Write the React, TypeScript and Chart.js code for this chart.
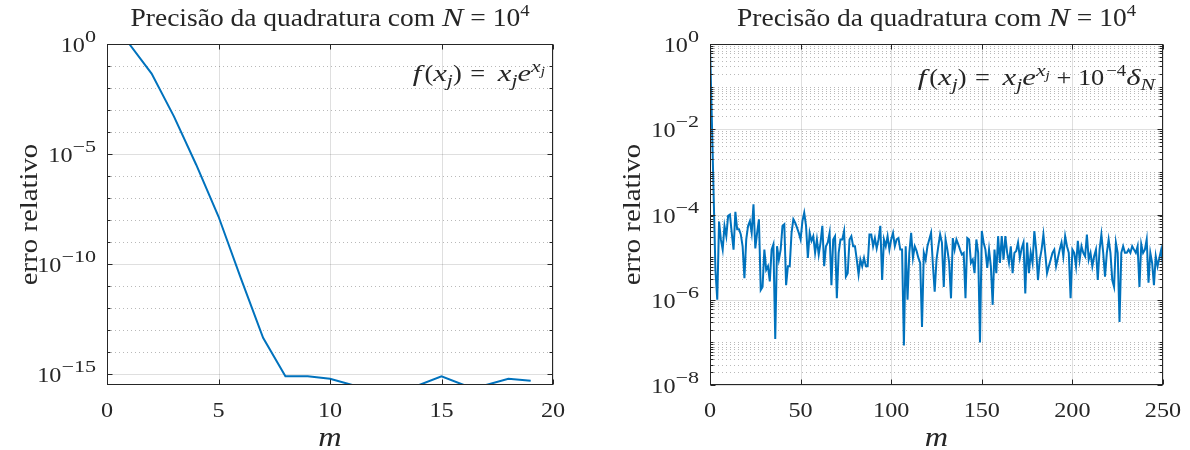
import React, { useEffect, useRef } from "react";
import { Chart, registerables } from "chart.js";

Chart.register(...registerables);

// ---------- data ----------
const leftM = [1, 2, 3, 4, 5, 6, 7, 8, 9, 10, 11, 12, 13, 14, 15, 16, 17, 18, 19];
const leftErr = [
  1.0, 4.5e-2, 5.1e-4, 3.2e-6, 1.4e-8, 2.2e-11, 4.2e-14, 7.5e-16, 7.5e-16, 5.8e-16,
  3.0e-16, 3.0e-16, 3.0e-16, 3.0e-16, 7.5e-16, 3.0e-16, 3.0e-16, 5.8e-16, 4.7e-16,
];

const rightM = [
  0, 1, 2, 3, 4, 5, 6, 7, 8, 9, 10, 11, 12, 13, 14, 15, 16, 17, 18, 19,
  20, 21, 22, 23, 24, 25, 26, 27, 28, 29, 30, 31, 32, 33, 34, 35, 36, 37, 38, 39,
  40, 41, 42, 43, 44, 45, 46, 47, 48, 49, 50, 51, 52, 53, 54, 55, 56, 57, 58, 59,
  60, 61, 62, 63, 64, 65, 66, 67, 68, 69, 70, 71, 72, 73, 74, 75, 76, 77, 78, 79,
  80, 81, 82, 83, 84, 85, 86, 87, 88, 89, 90, 91, 92, 93, 94, 95, 96, 97, 98, 99,
  100, 101, 102, 103, 104, 105, 106, 107, 108, 109, 110, 111, 112, 113, 114, 115, 116, 117, 118, 119,
  120, 121, 122, 123, 124, 125, 126, 127, 128, 129, 130, 131, 132, 133, 134, 135, 136, 137, 138, 139,
  140, 141, 142, 143, 144, 145, 146, 147, 148, 149, 150, 151, 152, 153, 154, 155, 156, 157, 158, 159,
  160, 161, 162, 163, 164, 165, 166, 167, 168, 169, 170, 171, 172, 173, 174, 175, 176, 177, 178, 179,
  180, 181, 182, 183, 184, 185, 186, 187, 188, 189, 190, 191, 192, 193, 194, 195, 196, 197, 198, 199,
  200, 201, 202, 203, 204, 205, 206, 207, 208, 209, 210, 211, 212, 213, 214, 215, 216, 217, 218, 219,
  220, 221, 222, 223, 224, 225, 226, 227, 228, 229, 230, 231, 232, 233, 234, 235, 236, 237, 238, 239,
  240, 241, 242, 243, 244, 245, 246, 247, 248, 249, 250,
];
const rightErr = [
  1, 1.8e-2, 3e-4, 5e-6, 1.0e-6, 6.8e-5, 2.6e-5, 1.5e-5, 5.4e-5, 3.1e-5,
  9.3e-5, 1.0e-4, 3.7e-5, 1.5e-5, 1.15e-4, 4.5e-5, 4.5e-5, 3.4e-5, 1.8e-5, 3.2e-6,
  2.6e-5, 5.4e-5, 7.0e-5, 3.7e-5, 1.74e-4, 1.6e-5, 3.7e-5, 7.7e-5, 1.7e-6, 2.0e-6,
  1.5e-5, 5.0e-6, 6.1e-6, 2.7e-6, 1.5e-5, 2.0e-5, 1.2e-7, 1.8e-5, 8.7e-6, 1.5e-5,
  5.4e-5, 5.9e-5, 2.2e-6, 6.1e-6, 6.1e-6, 3.7e-5, 7.7e-5, 6.4e-5, 4.9e-5, 3.7e-5,
  2.6e-5, 7.0e-5, 1.1e-4, 5.4e-5, 9.6e-6, 3.7e-5, 2.4e-5, 3.1e-5, 1.26e-5, 2.6e-5,
  1.15e-5, 2.2e-5, 5.4e-5, 6.1e-6, 1.8e-5, 2.2e-5, 3.7e-5, 2.2e-6, 2.6e-5, 3.1e-5,
  1.08e-6, 1.26e-5, 2.6e-5, 2.6e-5, 4.1e-5, 3.5e-6, 4.2e-6, 2.6e-5, 3.1e-5, 1.8e-5,
  1.8e-5, 8.7e-6, 3.9e-6, 8.7e-6, 6.1e-6, 9.6e-6, 6.1e-6, 6.1e-6, 3.4e-5, 3.4e-5,
  1.8e-5, 2.8e-5, 1.6e-5, 2.6e-5, 5.4e-5, 2.9e-6, 2.6e-5, 1.8e-5, 3.1e-5, 1.5e-5,
  2.6e-5, 3.7e-5, 1.8e-5, 2.6e-5, 2.8e-5, 1.5e-5, 1.5e-5, 8.5e-8, 1.8e-5, 1.0e-6,
  1.26e-5, 3.7e-5, 9.6e-6, 1.8e-5, 1.4e-5, 9.6e-6, 7.3e-6, 2.3e-7, 1.26e-5, 8.7e-6,
  1.8e-5, 2.6e-5, 3.7e-5, 6.7e-6, 1.55e-6, 8.7e-6, 1.8e-5, 3.4e-5, 2.2e-5, 2.0e-6,
  2.6e-5, 1.5e-5, 7.3e-6, 1.08e-6, 2.8e-5, 1.5e-5, 2.6e-5, 2.0e-5, 1.5e-5, 1.15e-5,
  1.26e-5, 1.08e-6, 2.8e-5, 2.6e-5, 7.3e-6, 8.7e-6, 4.2e-6, 2.6e-5, 1.26e-5, 1.0e-7,
  4.1e-5, 2.2e-5, 1.5e-5, 5.6e-6, 1.5e-5, 6.1e-6, 7.6e-7, 1.5e-5, 4.2e-6, 3.1e-5,
  7.3e-6, 3.1e-5, 8.7e-6, 3.1e-5, 1.26e-5, 7.3e-6, 1.8e-5, 4.2e-6, 1.26e-5, 1.4e-5,
  2.2e-5, 9.6e-6, 1.6e-5, 2.2e-5, 1.4e-6, 2.2e-5, 4.2e-6, 1.26e-5, 7.3e-6, 4.1e-5,
  1.5e-5, 2.9e-6, 8.7e-6, 1.5e-5, 3.4e-5, 1.26e-5, 4.2e-6, 6.1e-6, 8.7e-6, 1.26e-5,
  1.5e-5, 6.1e-6, 9.6e-6, 1.5e-5, 2.2e-5, 1.05e-5, 3.1e-5, 1.8e-5, 1.26e-5, 1.08e-6,
  1.5e-5, 1.26e-5, 6.1e-6, 2.4e-5, 8.7e-6, 1.8e-5, 1.26e-5, 1.05e-5, 3.4e-5, 8.7e-6,
  1.26e-5, 6.1e-6, 1.05e-5, 1.5e-5, 2.9e-6, 1.5e-5, 3.4e-5, 1.26e-5, 3.5e-6, 1.26e-5,
  2.6e-5, 1.26e-5, 2.9e-6, 2.0e-6, 2.2e-5, 1.26e-5, 3.0e-7, 1.26e-5, 1.8e-5, 1.26e-5,
  1.26e-5, 1.5e-5, 1.26e-5, 1.8e-5, 1.5e-5, 1.26e-5, 1.8e-5, 2.0e-6, 2.0e-5, 1.26e-5,
  1.5e-5, 2.6e-5, 2.5e-6, 1.26e-5, 7.3e-6, 2.2e-6, 1.05e-5, 6.1e-6, 9.6e-6, 1.5e-5,
  6.7e-6,
];

// ---------- ticks ----------
const leftXTicks = [0, 5, 10, 15, 20];
const leftYMajor = [1, 1e-5, 1e-10, 1e-15];
const leftYExp = ["0", "\u22125", "\u221210", "\u221215"];
const leftYMinor = [
  1e-1, 1e-2, 1e-3, 1e-4, 1e-6, 1e-7, 1e-8, 1e-9, 1e-11, 1e-12, 1e-13, 1e-14,
];

const rightXTicks = [0, 50, 100, 150, 200, 250];
const rightYMajor = [1, 1e-2, 1e-4, 1e-6, 1e-8];
const rightYExp = ["0", "\u22122", "\u22124", "\u22126", "\u22128"];

// log-axis minor ticks: 2..9 x 10^k plus the odd decades
function logMinorTicks(loExp: number, hiExp: number, majors: number[]) {
  const out: number[] = [];
  for (let k = loExp; k < hiExp; k++) {
    for (let d = 1; d <= 9; d++) {
      const v = d * Math.pow(10, k);
      if (!majors.some((mv) => Math.abs(mv - v) / mv < 1e-9)) out.push(v);
    }
  }
  return out;
}
const rightYMinor = logMinorTicks(-8, 0, rightYMajor);

// ---------- styles ----------
const SERIF = '"Liberation Serif", "DejaVu Serif", "Times New Roman", serif';
const AXIS_COLOR = "#262626";
const LINE_BLUE = "#0072BD";
const MAJOR_GRID = "rgba(38,38,38,0.15)";
const MINOR_GRID = "rgba(38,38,38,0.32)";
const ROMAN_SX = 1.1; // widen the roman face a little
const ITALIC_SX = 1.28; // math italics are set wider

type Seg = { t: string; italic?: boolean; size?: number; dy?: number; dx?: number; sx?: number };

function segFont(s: Seg, base: number) {
  return `${s.italic ? "italic " : ""}${s.size ?? base}px ${SERIF}`;
}

function drawRich(
  ctx: CanvasRenderingContext2D,
  segs: Seg[],
  x: number,
  y: number,
  align: "left" | "center" | "right",
  base: number
) {
  const scales = segs.map((s) => s.sx ?? (s.italic ? ITALIC_SX : ROMAN_SX));
  const widths = segs.map((s, i) => {
    ctx.font = segFont(s, base);
    return ctx.measureText(s.t).width * scales[i] + (s.dx ?? 0);
  });
  const total = widths.reduce((a, b) => a + b, 0);
  let cx = align === "right" ? x - total : align === "center" ? x - total / 2 : x;
  ctx.textAlign = "left";
  ctx.textBaseline = "alphabetic";
  segs.forEach((s, i) => {
    ctx.font = segFont(s, base);
    ctx.save();
    ctx.translate(cx, y + (s.dy ?? 0));
    ctx.scale(scales[i], 1);
    ctx.fillText(s.t, 0, 0);
    ctx.restore();
    cx += widths[i];
  });
}

const titleSegs: Seg[] = [
  { t: "Precisão da quadratura com " },
  { t: "N", italic: true },
  { t: " = 10" },
  { t: "4", size: 17, dy: -10 },
];

const leftNote: Seg[] = [
  { t: "f", italic: true, dx: 3 },
  { t: "(" },
  { t: "x", italic: true },
  { t: "j", italic: true, size: 17, dy: 5 },
  { t: ")", dx: 2 },
  { t: " = ", dx: 6 },
  { t: "x", italic: true },
  { t: "j", italic: true, size: 17, dy: 5 },
  { t: "e", italic: true },
  { t: "x", italic: true, size: 17, dy: -9 },
  { t: "j", italic: true, size: 12, dy: -6 },
];

const rightNote: Seg[] = [
  ...leftNote,
  { t: " + 10", dx: 2 },
  { t: "\u22124", size: 17, dy: -9 },
  { t: "δ", italic: true },
  { t: "N", italic: true, size: 17, dy: 5 },
];

type Panel = {
  width: number;
  area: { left: number; right: number; top: number; bottom: number };
  xs: number[];
  ys: number[];
  xMin: number;
  xMax: number;
  yMin: number;
  yMax: number;
  xTicks: number[];
  yMajor: number[];
  yExp: string[];
  yMinor: number[];
  note: Seg[];
  noteBaseline: number;
};

const snap = (v: number) => Math.round(v) + 0.5;

function matlabAxes(p: Panel) {
  return {
    id: "matlabAxes",
    beforeDatasetsDraw(chart: any) {
      const { ctx, chartArea: a } = chart;
      const x = chart.scales.x;
      const y = chart.scales.y;
      ctx.save();
      ctx.lineWidth = 1;
      // dotted minor grid
      ctx.strokeStyle = MINOR_GRID;
      ctx.setLineDash([1, 3]);
      ctx.beginPath();
      for (const v of p.yMinor) {
        const py = snap(y.getPixelForValue(v));
        ctx.moveTo(a.left, py);
        ctx.lineTo(a.right, py);
      }
      ctx.stroke();
      // solid major grid
      ctx.setLineDash([]);
      ctx.strokeStyle = MAJOR_GRID;
      ctx.beginPath();
      for (const v of p.yMajor) {
        const py = snap(y.getPixelForValue(v));
        ctx.moveTo(a.left, py);
        ctx.lineTo(a.right, py);
      }
      for (const v of p.xTicks) {
        const px = snap(x.getPixelForValue(v));
        ctx.moveTo(px, a.top);
        ctx.lineTo(px, a.bottom);
      }
      ctx.stroke();
      ctx.restore();
    },
    afterDatasetsDraw(chart: any) {
      const { ctx, chartArea: a } = chart;
      const x = chart.scales.x;
      const y = chart.scales.y;
      ctx.save();
      ctx.strokeStyle = AXIS_COLOR;
      ctx.fillStyle = AXIS_COLOR;
      ctx.lineWidth = 1;
      const L = snap(a.left);
      const R = snap(a.right) - 1;
      const T = snap(a.top);
      const B = snap(a.bottom) - 1;
      // box
      ctx.strokeRect(L, T, R - L, B - T);
      // inward tick marks
      ctx.beginPath();
      const major = 5;
      const minor = 3;
      for (const v of p.xTicks) {
        const px = snap(x.getPixelForValue(v));
        ctx.moveTo(px, B);
        ctx.lineTo(px, B - major);
        ctx.moveTo(px, T);
        ctx.lineTo(px, T + major);
      }
      for (const v of p.yMajor) {
        const py = snap(y.getPixelForValue(v));
        ctx.moveTo(L, py);
        ctx.lineTo(L + major, py);
        ctx.moveTo(R, py);
        ctx.lineTo(R - major, py);
      }
      for (const v of p.yMinor) {
        const py = snap(y.getPixelForValue(v));
        ctx.moveTo(L, py);
        ctx.lineTo(L + minor, py);
        ctx.moveTo(R, py);
        ctx.lineTo(R - minor, py);
      }
      ctx.stroke();

      // x tick labels
      for (const v of p.xTicks) {
        drawRich(ctx, [{ t: String(v) }], x.getPixelForValue(v), a.bottom + 32, "center", 22);
      }
      // y tick labels: 10 with raised exponent
      p.yMajor.forEach((v, i) => {
        const py = y.getPixelForValue(v);
        drawRich(
          ctx,
          [{ t: "10" }, { t: p.yExp[i], size: 17, dy: -10, sx: 1.3, dx: 2 }],
          a.left - 9,
          py + 8,
          "right",
          22
        );
      });

      const cx = (a.left + a.right) / 2;
      // title
      drawRich(ctx, titleSegs, cx, 26, "center", 25);
      // x axis title
      drawRich(ctx, [{ t: "m", italic: true, sx: 1.2 }], cx, 446, "center", 27);
      // y axis title
      ctx.save();
      ctx.translate(a.left - 78, (a.top + a.bottom) / 2);
      ctx.rotate(-Math.PI / 2);
      drawRich(ctx, [{ t: "erro relativo", sx: 1.15 }], 0, 8, "center", 25);
      ctx.restore();
      // formula in the upper right corner
      drawRich(ctx, p.note, a.right - 8, p.noteBaseline, "right", 24);
      ctx.restore();
    },
  };
}

function buildConfig(p: Panel): any {
  return {
    type: "line",
    data: {
      datasets: [
        {
          data: p.xs.map((xv, i) => ({ x: xv, y: p.ys[i] })),
          borderColor: LINE_BLUE,
          borderWidth: 2,
          pointRadius: 0,
          tension: 0,
          fill: false,
        },
      ],
    },
    options: {
      animation: false,
      responsive: false,
      devicePixelRatio: 1,
      events: [],
      layout: {
        padding: {
          left: p.area.left,
          top: p.area.top,
          right: p.width - p.area.right,
          bottom: 450 - p.area.bottom,
        },
      },
      scales: {
        x: { type: "linear", min: p.xMin, max: p.xMax, display: false },
        y: { type: "logarithmic", min: p.yMin, max: p.yMax, display: false },
      },
      plugins: { legend: { display: false }, tooltip: { enabled: false }, title: { display: false } },
    },
    plugins: [matlabAxes(p)],
  };
}

const leftPanel: Panel = {
  width: 600,
  area: { left: 107, right: 553, top: 44, bottom: 385 },
  xs: leftM,
  ys: leftErr,
  xMin: 0,
  xMax: 20,
  yMin: 3.0e-16,
  yMax: 1,
  xTicks: leftXTicks,
  yMajor: leftYMajor,
  yExp: leftYExp,
  yMinor: leftYMinor,
  note: leftNote,
  noteBaseline: 81,
};

const rightPanel: Panel = {
  width: 590,
  area: { left: 110, right: 563, top: 44, bottom: 385 },
  xs: rightM,
  ys: rightErr,
  xMin: 0,
  xMax: 250,
  yMin: 1e-8,
  yMax: 1,
  xTicks: rightXTicks,
  yMajor: rightYMajor,
  yExp: rightYExp,
  yMinor: rightYMinor,
  note: rightNote,
  noteBaseline: 85,
};

export default function App() {
  const leftRef = useRef<HTMLCanvasElement>(null);
  const rightRef = useRef<HTMLCanvasElement>(null);

  useEffect(() => {
    const c1 = new Chart(leftRef.current as HTMLCanvasElement, buildConfig(leftPanel));
    const c2 = new Chart(rightRef.current as HTMLCanvasElement, buildConfig(rightPanel));
    return () => {
      c1.destroy();
      c2.destroy();
    };
  }, []);

  return (
    <div style={{ position: "absolute", left: 0, top: 0, width: 1190, height: 450, background: "#ffffff" }}>
      <canvas
        ref={leftRef}
        width={600}
        height={450}
        style={{ position: "absolute", left: 0, top: 0, width: 600, height: 450 }}
      />
      <canvas
        ref={rightRef}
        width={590}
        height={450}
        style={{ position: "absolute", left: 600, top: 0, width: 590, height: 450 }}
      />
    </div>
  );
}
